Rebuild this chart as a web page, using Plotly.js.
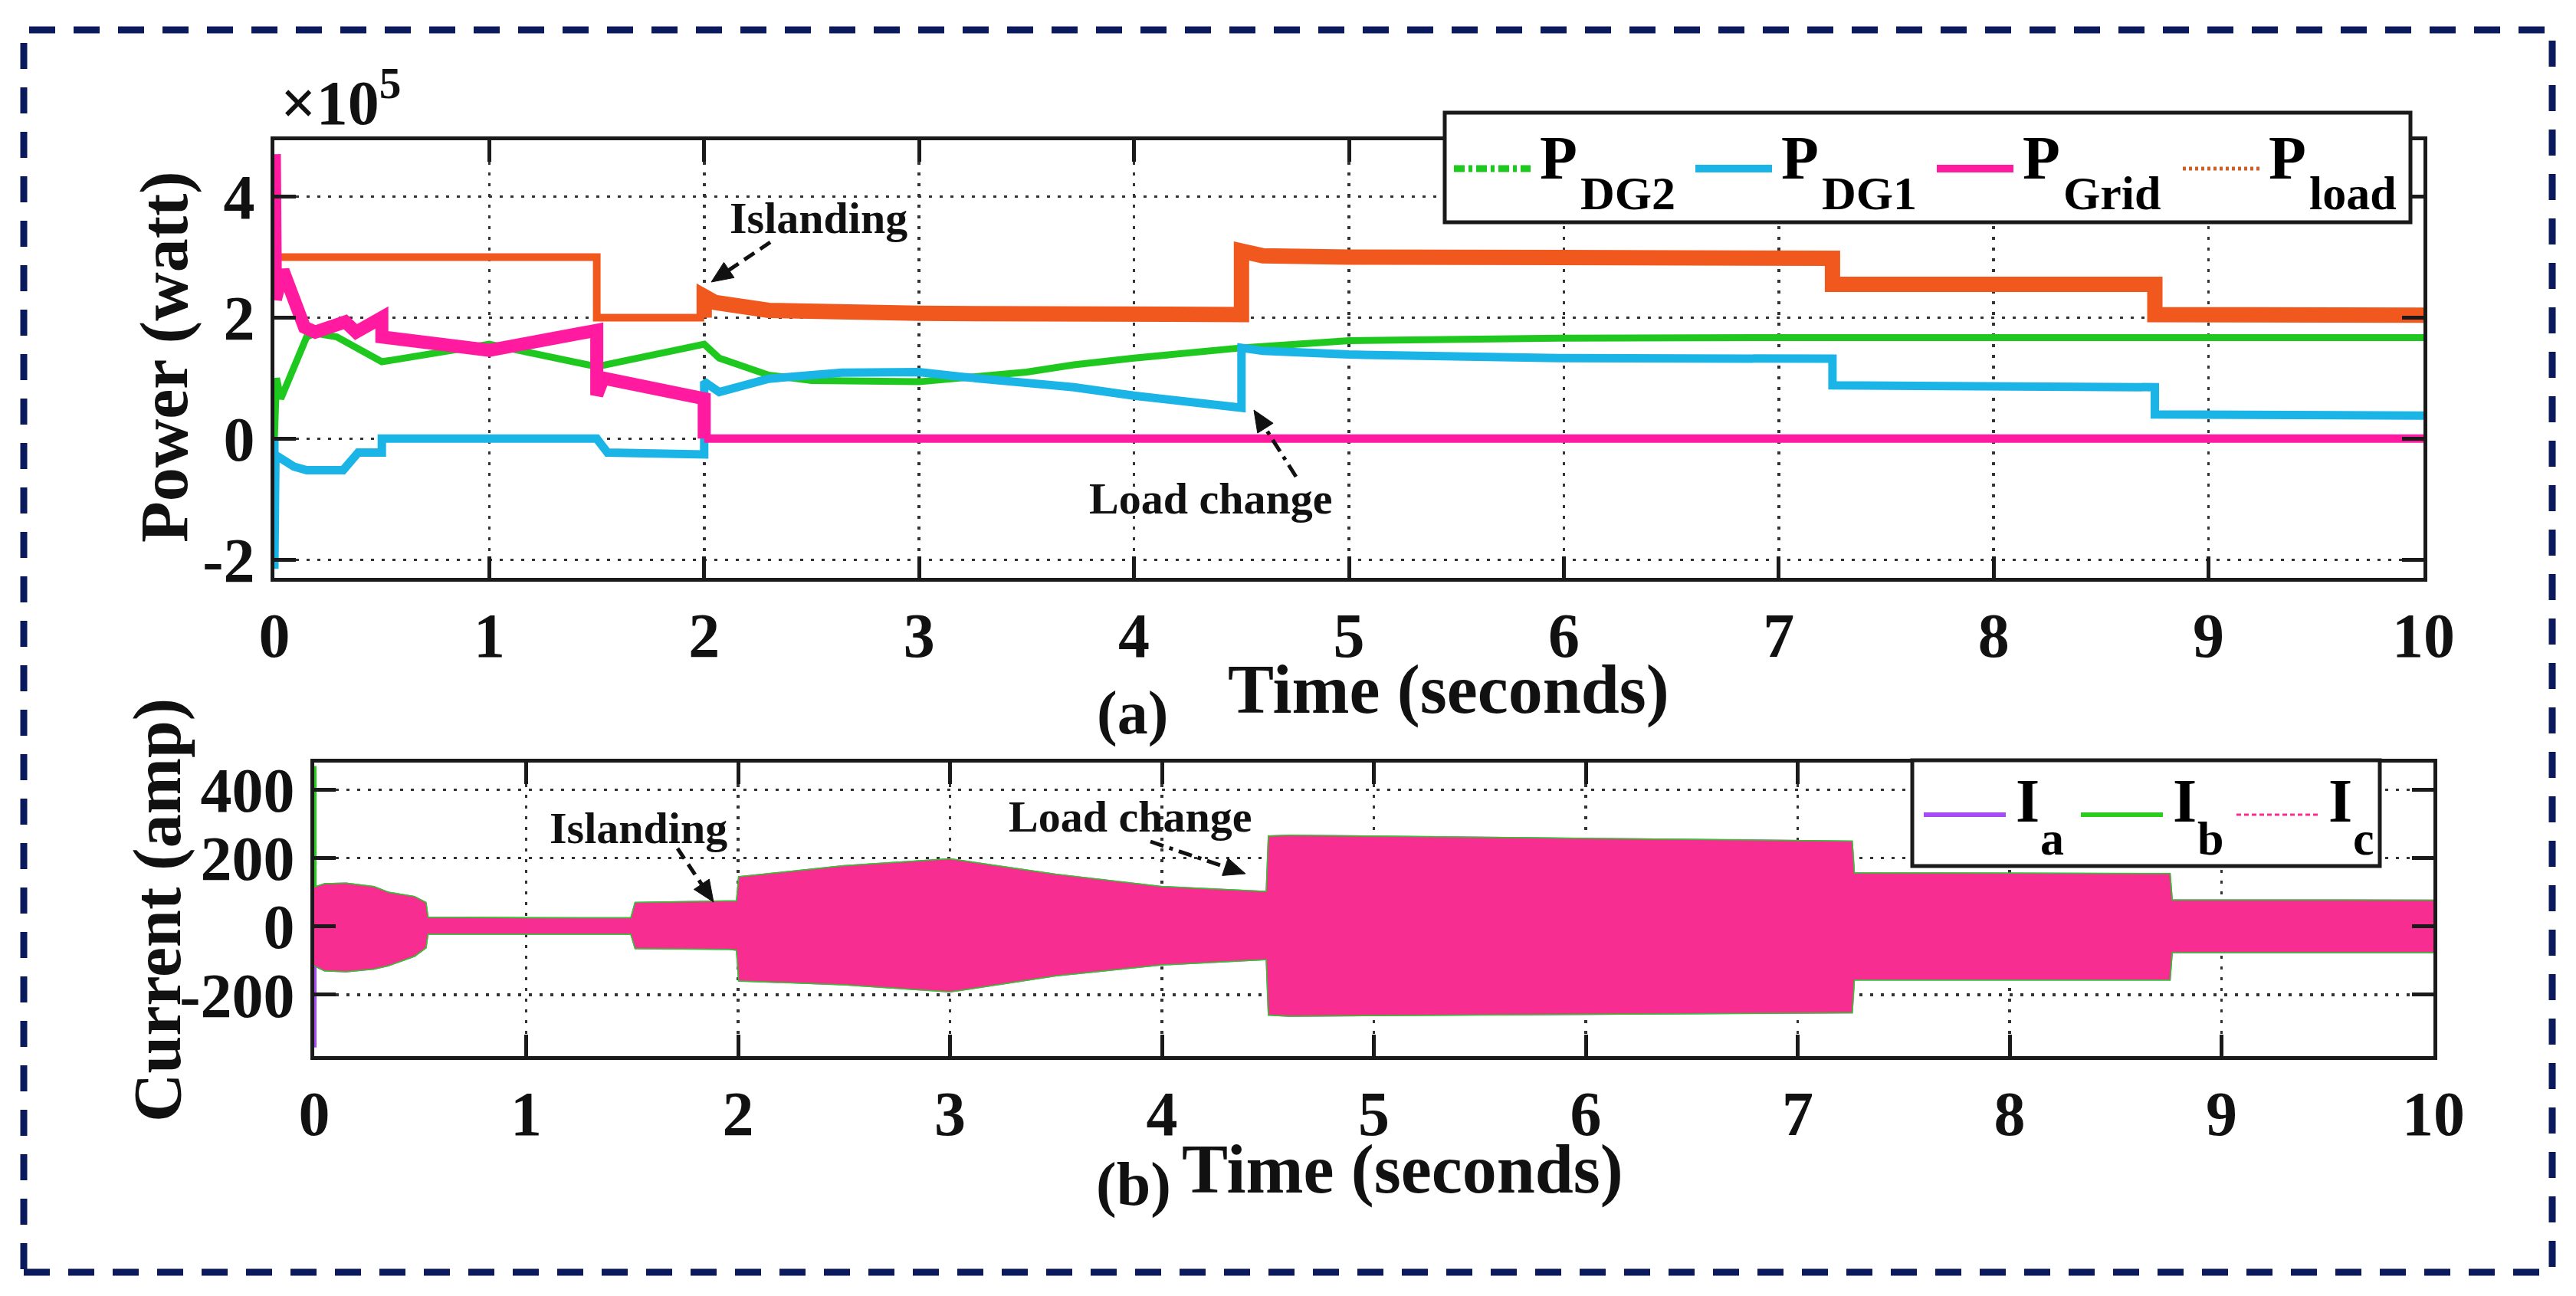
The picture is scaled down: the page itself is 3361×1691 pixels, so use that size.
<!DOCTYPE html>
<html>
<head>
<meta charset="utf-8">
<script src="https://cdn.plot.ly/plotly-3.0.1.min.js"></script>
<style>html,body{margin:0;padding:0;background:#fff;}#chart{width:3361px;height:1691px;}</style>
</head>
<body>
<div id="chart"></div>
<script>
// ---------------- DATA (top panel, power in units of 1e5 W) ----------------
const tLoad = [0, 1.5, 1.5, 2.0, 2.0, 2.05, 2.3, 3.0, 4.5, 4.5, 4.6, 5.0, 7.25, 7.25, 8.75, 8.75, 10];
const pLoad = [3.0, 3.0, 2.0, 2.0, 2.35, 2.25, 2.12, 2.07, 2.05, 3.1, 3.02, 3.0, 2.98, 2.55, 2.55, 2.05, 2.04];

const tGrid = [0, 0.005, 0.04, 0.07, 0.14, 0.19, 0.29, 0.33, 0.38, 0.46, 0.5, 0.5, 1.0, 1.5, 1.5, 1.53, 2.0, 2.0, 10];
const pGrid = [4.7, 2.3, 2.78, 2.52, 1.84, 1.76, 1.89, 1.93, 1.76, 1.93, 2.0, 1.68, 1.46, 1.79, 0.72, 1.0, 0.66, 0, 0];

const tDG2 = [0, 0.01, 0.03, 0.15, 0.19, 0.29, 0.5, 1.0, 1.5, 2.0, 2.07, 2.3, 2.5, 3.0, 3.5, 3.72, 4.0, 4.5, 5.0, 6.0, 7.0, 8.0, 9.0, 10];
const pDG2 = [0, 1.0, 0.66, 1.68, 1.74, 1.68, 1.27, 1.56, 1.19, 1.56, 1.33, 1.05, 0.96, 0.94, 1.1, 1.22, 1.33, 1.5, 1.62, 1.66, 1.67, 1.67, 1.67, 1.67];

const tDG1 = [0, 0, 0.005, 0.09, 0.15, 0.32, 0.36, 0.39, 0.5, 0.5, 1.5, 1.55, 2.0, 2.0, 2.07, 2.3, 2.64, 3.0, 3.2, 3.72, 4.0, 4.5, 4.5, 4.6, 5.0, 6.0, 7.25, 7.25, 8.75, 8.75, 10];
const pDG1 = [0, -2.15, -0.27, -0.46, -0.52, -0.52, -0.35, -0.23, -0.23, 0, 0, -0.23, -0.26, 0.94, 0.77, 0.99, 1.09, 1.1, 1.02, 0.85, 0.71, 0.51, 1.5, 1.45, 1.39, 1.33, 1.32, 0.88, 0.85, 0.4, 0.38];

// ---------------- DATA (bottom panel, current envelope in A) ----------------
const tI     = [0, 0.05, 0.15, 0.28, 0.35, 0.47, 0.52, 0.53, 1.0, 1.5, 1.52, 1.95, 2.0, 2.01, 2.5, 3.0, 3.5, 4.0, 4.5, 4.51, 4.6, 7.25, 7.26, 8.75, 8.76, 10];
const iUpper = [110, 120, 122, 112, 95, 83, 67, 22, 20, 20, 65, 68, 70, 141, 173, 193, 148, 112, 97, 260, 262, 245, 152, 150, 73, 72];
const iLower = [-110, -125, -128, -120, -110, -83, -60, -18, -18, -18, -60, -62, -65, -155, -166, -187, -140, -108, -92, -255, -258, -248, -152, -152, -72, -72];
const ibPeak = 470;   // initial spike of I_b at t = 0
const iaPeak = -355;  // initial spike of I_a at t = 0

// tick labels and legend names
const xTicks = [0,1,2,3,4,5,6,7,8,9,10];
const yTicksP = [-2, 0, 2, 4];
const yTicksI = [-200, 0, 200, 400];
const powerNames = [['P','DG2'], ['P','DG1'], ['P','Grid'], ['P','load']];
const currentNames = [['I','a'], ['I','b'], ['I','c']];

// ---------------- helpers ----------------
const W = 3361, H = 1691;
const px = x => x / W;
const py = y => 1 - y / H;
const FONT = 'Liberation Serif';
const C = {dg2:'#1fc81f', dg1:'#1ab4e6', grid:'#ff1aa0', load:'#f0581e', ia:'#a64cf5', ib:'#2bcc20', ic:'#f72d92'};

function splitAt(t, v, ts) {
  let k = t.findIndex(x => x >= ts);
  return [[t.slice(0, k + 1), v.slice(0, k + 1)], [t.slice(k), v.slice(k)]];
}
const [loadA, loadB] = splitAt(tLoad, pLoad, 2.0);
const kg = tGrid.lastIndexOf(2.0);
const gridA = [tGrid.slice(0, kg + 1), pGrid.slice(0, kg + 1)];
const gridB = [tGrid.slice(kg), pGrid.slice(kg)];

function band(up0, low0) {
  const x = [0].concat(tI, tI.slice().reverse(), [0]);
  const y = [up0].concat(iUpper, iLower.slice().reverse(), [low0]);
  return {x, y};
}
const bA = band(iUpper[0], iaPeak);
const bB = band(ibPeak, iLower[0]);
const bC = band(iUpper[0], iLower[0]);

const traces = [
  // top panel
  {x: loadA[0], y: loadA[1], mode:'lines', name:'P load', line:{color:C.load, width:10}, xaxis:'x', yaxis:'y'},
  {x: loadB[0], y: loadB[1], mode:'lines', name:'P load', line:{color:C.load, width:20}, xaxis:'x', yaxis:'y'},
  {x: tDG2, y: pDG2, mode:'lines', name:'P DG2', line:{color:C.dg2, width:9}, xaxis:'x', yaxis:'y'},
  {x: tDG1, y: pDG1, mode:'lines', name:'P DG1', line:{color:C.dg1, width:11}, xaxis:'x', yaxis:'y'},
  {x: gridA[0], y: gridA[1], mode:'lines', name:'P Grid', line:{color:C.grid, width:17}, xaxis:'x', yaxis:'y'},
  {x: gridB[0], y: gridB[1], mode:'lines', name:'P Grid', line:{color:C.grid, width:11}, xaxis:'x', yaxis:'y'},
  // bottom panel
  {x: bA.x, y: bA.y, mode:'lines', name:'I a', fill:'toself', fillcolor:C.ia, line:{color:C.ia, width:6}, xaxis:'x2', yaxis:'y2'},
  {x: bB.x, y: bB.y, mode:'lines', name:'I b', fill:'toself', fillcolor:C.ib, line:{color:C.ib, width:6}, xaxis:'x2', yaxis:'y2'},
  {x: bC.x, y: bC.y, mode:'lines', name:'I c', fill:'toself', fillcolor:C.ic, line:{color:C.ic, width:3}, xaxis:'x2', yaxis:'y2'}
];

const tickFont = {family: FONT, size: 82, color:'#111', weight:'bold'};
function axisBase() {
  return {
    showline:true, linewidth:5, linecolor:'#1a1a1a', mirror:'ticks',
    ticks:'inside', ticklen:28, tickwidth:5, tickcolor:'#1a1a1a',
    showgrid:true, gridcolor:'#333', gridwidth:3.5, griddash:'4px,10px',
    zeroline:false, tickfont: tickFont, automargin:false, fixedrange:true
  };
}

function ann(x, y, text, size, extra) {
  return Object.assign({xref:'paper', yref:'paper', x:px(x), y:py(y), xanchor:'center', yanchor:'middle',
    showarrow:false, text:text, font:{family:FONT, size:size, color:'#111', weight:'bold'}}, extra || {});
}
function seg(x0, y0, x1, y1, color, width, dash) {
  return {type:'line', xref:'paper', yref:'paper', x0:px(x0), y0:py(y0), x1:px(x1), y1:py(y1),
    line:{color:color, width:width, dash:dash || 'solid'}, layer:'above'};
}
// dashed arrow: shaft (line shape) + filled triangular head (path shape)
function arrow(tx, ty, hx, hy, dash) {
  const dx = hx - tx, dy = hy - ty, L = Math.hypot(dx, dy);
  const ux = dx / L, uy = dy / L, len = 28, hw = 12;
  const bx = hx - ux * len, by = hy - uy * len;
  const p1 = [bx - uy * hw, by + ux * hw], p2 = [bx + uy * hw, by - ux * hw];
  const path = 'M' + px(hx) + ',' + py(hy) + ' L' + px(p1[0]) + ',' + py(p1[1]) +
               ' L' + px(p2[0]) + ',' + py(p2[1]) + ' Z';
  return [
    seg(tx, ty, bx + ux * 4, by + uy * 4, '#111', 5, dash),
    {type:'path', xref:'paper', yref:'paper', path:path, fillcolor:'#111', line:{color:'#111', width:1}, layer:'above'}
  ];
}

// ---- legend layout (pixel placement of the legend boxes) ----
const legTopX = [1897, 2212, 2527, 2848];          // line-sample start of each power entry
const legTopStyle = [[C.dg2, 9, '14px,5px,5px,5px'], [C.dg1, 10, 'solid'], [C.grid, 10, 'solid'], ['#d0602a', 5, '4px,4px']];
const legBotX = [2510, 2715, 2918];                // line-sample start of each current entry
const legBotStyle = [[C.ia, 6, 'solid'], [C.ib, 6, 'solid'], [C.ic, 3, '6px,4px']];

const DASH = '16px,9px', DASHDOT = '18px,8px,5px,8px';
const shapes = [
  {type:'rect', xref:'paper', yref:'paper', x0:px(31), x1:px(3330), y0:py(1660), y1:py(39),
   line:{color:'#0a1a5c', width:9, dash:'34px,24px'}, fillcolor:'rgba(0,0,0,0)', layer:'above'},
  // legend boxes
  {type:'rect', xref:'paper', yref:'paper', x0:px(1885), x1:px(3145), y0:py(290), y1:py(147),
   line:{color:'#1a1a1a', width:5}, fillcolor:'#fff', layer:'above'},
  {type:'rect', xref:'paper', yref:'paper', x0:px(2495), x1:px(3105), y0:py(1130), y1:py(992),
   line:{color:'#1a1a1a', width:5}, fillcolor:'#fff', layer:'above'}
].concat(
  arrow(1005, 316, 928, 368, DASH),
  arrow(1691, 622, 1636, 535, DASHDOT),
  arrow(884, 1107, 931, 1177, DASH),
  arrow(1501, 1098, 1625, 1140, DASHDOT)
);
const annotations = [
  ann(364, 182, '×10<sup>5</sup>', 82, {xanchor:'left', yanchor:'bottom'}),
  ann(215, 466, 'Power (watt)', 88, {textangle:-90}),
  ann(205, 1188, 'Current (amp)', 88, {textangle:-90}),
  ann(1890, 900, 'Time (seconds)', 90),
  ann(1477, 930, '(a)', 80),
  ann(1830, 1526, 'Time (seconds)', 90),
  ann(1479, 1545, '(b)', 80),
  ann(1068, 285, 'Islanding', 58),
  ann(1579, 650, 'Load change', 58),
  ann(833, 1080, 'Islanding', 58),
  ann(1474, 1065, 'Load change', 58)
];
// legend entries: sample line + main letter + subscript
powerNames.forEach((nm, i) => {
  const x = legTopX[i], st = legTopStyle[i];
  shapes.push(seg(x, 220, x + 100, 220, st[0], st[1], st[2]));
  annotations.push(ann(x + 110, 206, nm[0], 80, {xanchor:'left', font:{family:FONT, size:80, color:'#000', weight:'bold'}}));
  annotations.push(ann(x + 163, 252, nm[1], 62, {xanchor:'left', font:{family:FONT, size:62, color:'#000', weight:'bold'}}));
});
currentNames.forEach((nm, i) => {
  const x = legBotX[i], st = legBotStyle[i];
  shapes.push(seg(x, 1063, x + 107, 1063, st[0], st[1], st[2]));
  annotations.push(ann(x + 118, 1045, nm[0], 80, {xanchor:'left', font:{family:FONT, size:80, color:'#000', weight:'bold'}}));
  annotations.push(ann(x + 150, 1094, nm[1], 62, {xanchor:'left', font:{family:FONT, size:62, color:'#000', weight:'bold'}}));
});

const layout = {
  width: W, height: H,
  margin:{l:0, r:0, t:0, b:0, pad:0},
  paper_bgcolor:'#fff', plot_bgcolor:'#fff',
  showlegend:false,
  xaxis: Object.assign(axisBase(), {domain:[px(358), px(3162)], range:[0,10], tickvals:xTicks, ticktext:xTicks.map(String), anchor:'y', ticklabelstandoff:0}),
  yaxis: Object.assign(axisBase(), {domain:[py(754), py(183)], range:[-2.3, 4.93], tickvals:yTicksP, ticktext:yTicksP.map(String), anchor:'x', ticklabelstandoff:4}),
  xaxis2: Object.assign(axisBase(), {domain:[px(410), px(3175)], range:[0,10], tickvals:xTicks, ticktext:xTicks.map(String), anchor:'y2', ticklabelstandoff:0}),
  yaxis2: Object.assign(axisBase(), {domain:[py(1378), py(995)], range:[-380, 480], tickvals:yTicksI, ticktext:yTicksI.map(String), anchor:'x2', ticklabelstandoff:4}),
  shapes: shapes,
  annotations: annotations
};

Plotly.newPlot('chart', traces, layout, {displayModeBar:false, staticPlot:true});
</script>
</body>
</html>
